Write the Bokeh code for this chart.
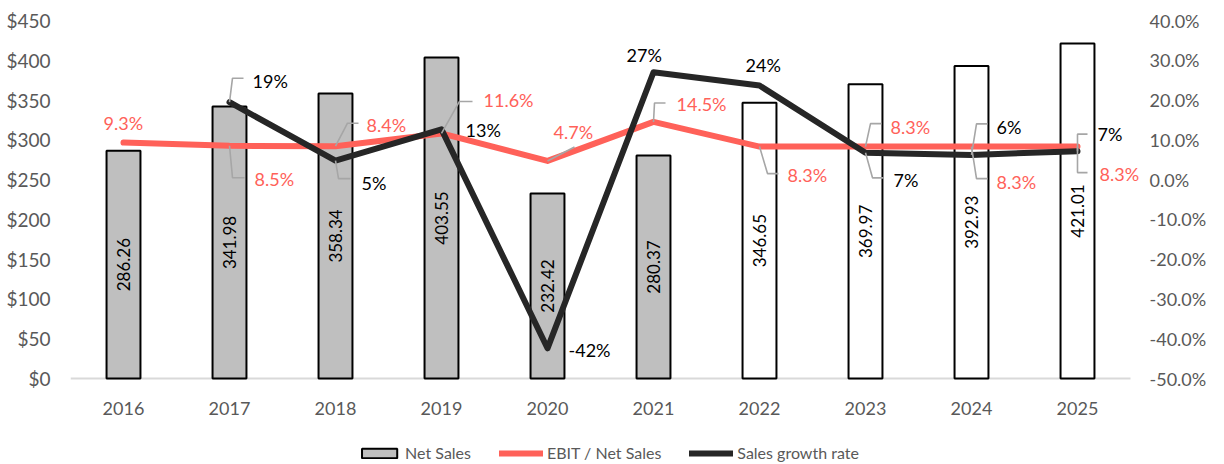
import math
from bokeh.plotting import figure
from bokeh.models import (Range1d, LinearAxis, FixedTicker, PrintfTickFormatter,
                          Legend, LegendItem, ColumnDataSource)
from bokeh.embed import file_html
from bokeh.resources import INLINE
from bokeh.core.properties import value

# ---------------- data ----------------
years = [2016, 2017, 2018, 2019, 2020, 2021, 2022, 2023, 2024, 2025]
year_labels = ["2016", "2017", "2018", "2019", "2020", "2021", "2022", "2023", "2024", "2025"]
net_sales = [286.26, 341.98, 358.34, 403.55, 232.42, 280.37, 346.65, 369.97, 392.93, 421.01]
ebit_margin = [9.3, 8.5, 8.4, 11.6, 4.7, 14.5, 8.3, 8.3, 8.3, 8.3]
ebit_labels = ["9.3%", "8.5%", "8.4%", "11.6%", "4.7%", "14.5%", "8.3%", "8.3%", "8.3%", "8.3%"]
growth_years = [2017, 2018, 2019, 2020, 2021, 2022, 2023, 2024, 2025]
growth_rate = [19.46, 4.78, 12.62, -42.41, 27.0, 23.64, 6.73, 6.21, 7.15]
growth_labels = ["19%", "5%", "13%", "-42%", "27%", "24%", "7%", "6%", "7%"]
last_actual_year = 2021
left_ticks = [0, 50, 100, 150, 200, 250, 300, 350, 400, 450]
right_ticks = [-50, -40, -30, -20, -10, 0, 10, 20, 30, 40]
S_MAX = 450
P_MIN, P_MAX = -50, 40

# ---------------- layout / style ----------------
FONT = "Lato"
PLOT_H = 358          # px between $0 and $450
BELOW = 84            # px of frame kept under $0 for year labels + legend
PX_YEAR = 106         # px per category
EXTRA_R = 16          # room right of the last category
FW = 10 * PX_YEAR + EXTRA_R
FH = PLOT_H + BELOW
X0 = 2015.5
X_END = 2025.5
X1 = X_END + EXTRA_R / PX_YEAR
px_x = PX_YEAR
px_s = PLOT_H / S_MAX
px_p = PLOT_H / (P_MAX - P_MIN)
Y0 = -BELOW / px_s
P0 = P_MIN - BELOW / px_p
RED = "#FF6159"
BLACK = "#262626"
GRAY_TXT = "#595959"
LEADER = "#A6A6A6"

# label placement in screen px relative to the point: (dx, dy, leader path)
ebit_place = [
    (-20, -20, None),
    (25, 33, [(0, 0), (3, 32), (15, 32)]),
    (31, -21, [(0, 0), (12, -23), (23, -23)]),
    (42, -33, [(0, 0), (18, -32), (31, -32)]),
    (6, -29, [(0, 0), (27, -14)]),
    (23, -18, [(0, 0), (1, -19), (12, -19)]),
    (28, 28, [(0, 0), (8, 27), (19, 27)]),
    (25, -20, [(0, 0), (5, -23), (16, -23)]),
    (25, 35, [(0, 0), (5, 32), (16, 32)]),
    (22, 27, [(0, 0), (0, 26), (10, 26)]),
]
growth_place = [
    (23, -21, [(0, 0), (3, -24), (14, -24)]),
    (26, 22, [(0, 0), (3, 18), (15, 18)]),
    (24, 1, None),
    (21, 2, None),
    (-27, -17, None),
    (-14, -21, None),
    (28, 27, [(0, 0), (7, 25), (18, 25)]),
    (25, -28, [(0, 0), (5, -31), (16, -31)]),
    (20, -17, [(0, 0), (0, -17), (10, -17)]),
]


def place(xs, vals, placements):
    tx, ty, lx, ly = [], [], [], []
    for x, v, (dx, dy, path) in zip(xs, vals, placements):
        tx.append(x + dx / px_x)
        ty.append(v - dy / px_p)
        if path:
            lx.append([x + ox / px_x for ox, oy in path])
            ly.append([v - oy / px_p for ox, oy in path])
    return tx, ty, lx, ly


p = figure(frame_width=FW, frame_height=FH, output_backend="svg", toolbar_location=None,
           x_range=Range1d(X0, X1), y_range=Range1d(Y0, S_MAX),
           min_border_left=70, min_border_right=0, min_border_top=20, min_border_bottom=0)
p.extra_y_ranges = {"pct": Range1d(P0, P_MAX)}
p.outline_line_color = None
p.xgrid.visible = False
p.ygrid.visible = False
p.xaxis.visible = False
p.background_fill_color = "white"

# axes
p.yaxis.ticker = FixedTicker(ticks=left_ticks)
p.yaxis.formatter = PrintfTickFormatter(format="$%d")
raxis = LinearAxis(y_range_name="pct", ticker=FixedTicker(ticks=right_ticks),
                   formatter=PrintfTickFormatter(format="%.1f%%"))
p.add_layout(raxis, "right")

for ax, fs, so in ((p.yaxis[0], "19px", 20), (raxis, "18px", 3)):
    ax.axis_line_color = None
    ax.major_tick_line_color = None
    ax.minor_tick_line_color = None
    ax.major_tick_out = 0
    ax.major_tick_in = 0
    ax.minor_tick_out = 0
    ax.minor_tick_in = 0
    ax.major_label_text_font = FONT
    ax.major_label_text_font_size = fs
    ax.major_label_text_color = GRAY_TXT
    ax.major_label_standoff = so

# baseline at $0 spanning the category area, and category labels below it
p.segment(x0=[X0], y0=[0], x1=[X_END], y1=[0], line_color="#D9D9D9", line_width=2)
p.text(x=years, y=[-30 / px_s] * len(years), text=year_labels, text_align="center",
       text_baseline="middle", text_font=value(FONT), text_font_size="18px",
       text_color=GRAY_TXT)

# bars
bar_src = ColumnDataSource(dict(
    x=years, top=net_sales,
    fill=["#BFBFBF" if y <= last_actual_year else "#FFFFFF" for y in years],
    mid=[v / 2 for v in net_sales],
    lab=["%.2f" % v for v in net_sales],
))
bars = p.vbar(x="x", top="top", bottom=0, width=0.32, source=bar_src, fill_color="fill",
              line_color="black", line_width=2)
p.text(x="x", y="mid", text="lab", source=bar_src, angle=math.pi / 2,
       text_align="center", text_baseline="middle", text_font=value(FONT),
       text_font_size="17px", text_color="black")

# lines
red = p.line(years, ebit_margin, y_range_name="pct", line_color=RED, line_width=6,
             line_cap="round", line_join="round")
blk = p.line(growth_years, growth_rate, y_range_name="pct", line_color=BLACK, line_width=6,
             line_cap="round", line_join="round")

# labels + leaders
etx, ety, elx, ely = place(years, ebit_margin, ebit_place)
gtx, gty, glx, gly = place(growth_years, growth_rate, growth_place)
p.multi_line(elx + glx, ely + gly, y_range_name="pct", line_color=LEADER, line_width=1.6)

esrc = ColumnDataSource(dict(x=etx, y=ety, t=ebit_labels))
gsrc = ColumnDataSource(dict(x=gtx, y=gty, t=growth_labels))
p.text(x="x", y="y", text="t", source=esrc, y_range_name="pct",
       text_align="left", text_baseline="middle", text_font=value(FONT),
       text_font_size="18px", text_color=RED)
p.text(x="x", y="y", text="t", source=gsrc, y_range_name="pct",
       text_align="left", text_baseline="middle", text_font=value(FONT),
       text_font_size="18px", text_color="black")

legend = Legend(items=[
    LegendItem(label="Net Sales", renderers=[bars], index=0),
    LegendItem(label="EBIT / Net Sales", renderers=[red]),
    LegendItem(label="Sales growth rate", renderers=[blk]),
], orientation="horizontal", location="bottom_center", border_line_color=None,
    background_fill_alpha=0, label_text_font=FONT, label_text_font_size="16px",
    label_text_color=GRAY_TXT, glyph_width=44, glyph_height=12, label_height=16,
    spacing=28, label_standoff=4, padding=0, margin=0)
p.add_layout(legend, "center")

open("out.html", "w").write(file_html(p, INLINE))
